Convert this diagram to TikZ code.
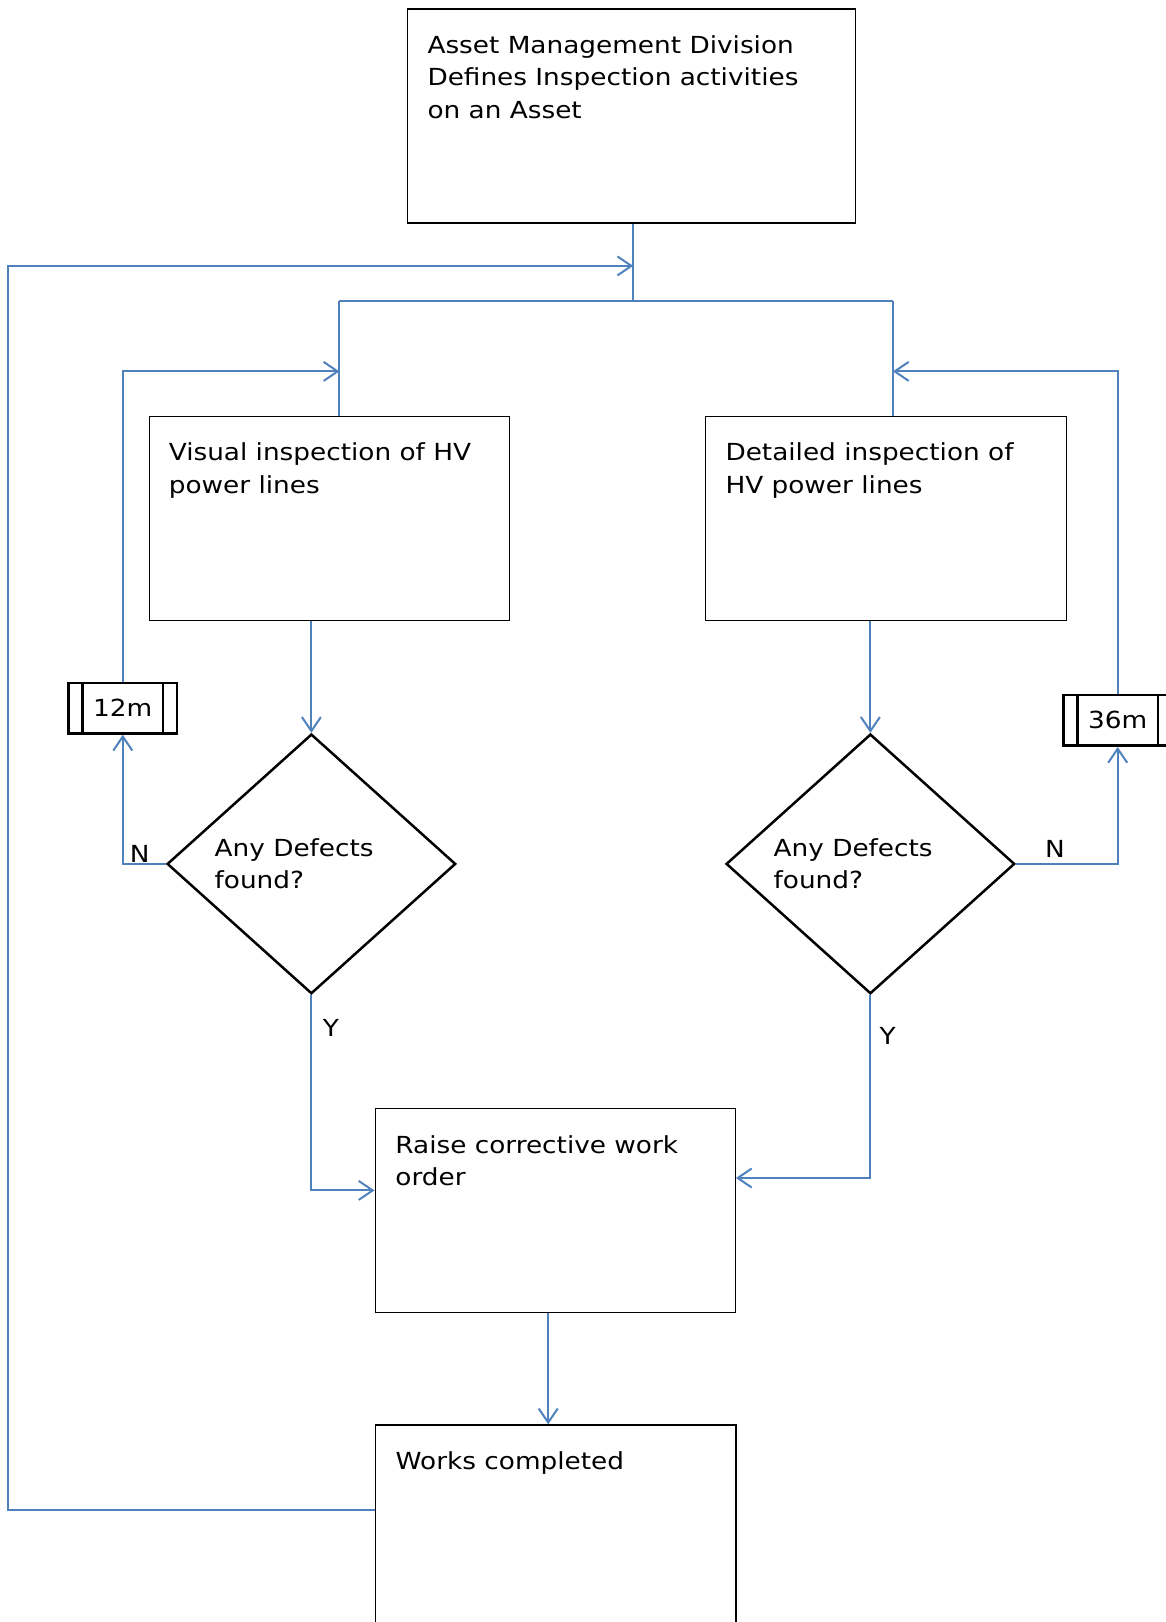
\documentclass[tikz,border=0pt]{standalone}
\usepackage{fontspec}
\setmainfont{DejaVu Sans}[FakeStretch=1.12]
\usepackage{tikz}
\usetikzlibrary{arrows.meta,calc,shapes.geometric,positioning}
\definecolor{LinkBlue}{RGB}{79,129,189}

\tikzset{
  boxtext/.style = {anchor=north west, align=left, inner sep=0pt,
                    font=\fontsize{23.5}{32.6}\selectfont},
  stepbox/.style = {draw, line width=1.3pt, inner sep=0pt, anchor=north west},
  askbox/.style  = {draw, diamond, line width=2.5pt, inner sep=0pt,
                    minimum width=288.6pt, minimum height=259.7pt},
  askline/.style = {boxtext, anchor=west, xshift=48.6pt},
  waitbox/.style = {draw, line width=2.6pt, inner sep=0pt,
                    minimum width=108.6pt, minimum height=50.5pt,
                    font=\fontsize{23.5}{32.6}\selectfont,
                    path picture={
                      \draw[line width=2.6pt]
                        ([xshift=14pt]path picture bounding box.north west) --
                        ([xshift=14pt]path picture bounding box.south west);
                      \draw[line width=2.6pt]
                        ([xshift=-14pt]path picture bounding box.north east) --
                        ([xshift=-14pt]path picture bounding box.south east);}},
  link/.style    = {draw=LinkBlue, line width=2pt},
  tip/.style     = {link, -{Straight Barb[length=14pt,width=19pt]}},
  yn/.style      = {inner sep=0pt, font=\fontsize{23.5}{32.6}\selectfont}
}

\begin{document}
\begin{tikzpicture}[x=1pt,y=-1pt]
\useasboundingbox (0,0) rectangle (1165,1622);
%
% boxes
\node[stepbox, minimum width=448pt, minimum height=214.1pt,
      label={[boxtext, xshift=20.7pt, yshift=-27pt]north west:{Asset Management Division\\Defines Inspection activities\\on an Asset}}]
      (amd) at (406.6,8.3) {};
\node[stepbox, minimum width=360pt, minimum height=203.8pt,
      label={[boxtext, xshift=19.6pt, yshift=-27pt]north west:{Visual inspection of HV\\power lines}}]
      (vis) at (149,415.9) {};
\node[stepbox, minimum width=361pt, minimum height=203.8pt,
      label={[boxtext, xshift=20.7pt, yshift=-27pt]north west:{Detailed inspection of\\HV power lines}}]
      (det) at (704.6,415.9) {};
\node[stepbox, minimum width=360.1pt, minimum height=203.9pt,
      label={[boxtext, xshift=20.7pt, yshift=-27pt]north west:{Raise corrective work\\order}}]
      (cwo) at (374.5,1108) {};
\node[stepbox, minimum width=360.5pt, minimum height=204pt,
      label={[boxtext, xshift=20.7pt, yshift=-27pt]north west:{Works completed}}]
      (done) at (374.8,1424.3) {};
%
% decisions
\node[askbox, label={[askline]west:{Any Defects\\found?}}] (askvis) at (311.4,863.9) {};
\node[askbox, label={[askline]west:{Any Defects\\found?}}] (askdet) at (870.4,863.9) {};
%
% intervals
\node[waitbox] (wait12) at (122.8,708.2) {12m};
\node[waitbox] (wait36) at (1117.7,720.4) {36m};
%
% junction points
\coordinate (split)   at (633.2,301);
\coordinate (visfork) at (339.4,301);
\coordinate (detfork) at (892.9,301);
\coordinate (visin)   at (339.4,371.4);
\coordinate (detin)   at (892.9,371.4);
\coordinate (loopin)  at (633.2,265.9);
\coordinate (loopbot) at (8.3,1509.8);
\coordinate (looptop) at (8.3,265.9);
%
% connectors
\draw[link] (amd.south -| split) -- (split);
\draw[link] (visfork) -- (detfork);
\draw[link] (visfork) -- (visfork |- vis.north);
\draw[link] (detfork) -- (detfork |- det.north);
\draw[tip] (vis.south -| askvis.north) -- (askvis.north);
\draw[tip] (det.south -| askdet.north) -- (askdet.north);
\draw[tip] (askvis.west) -| (wait12.south);
\draw[tip] (wait12.north) |- (visin);
\draw[tip] (askdet.east) -| (wait36.south);
\draw[tip] (wait36.north) |- (detin);
\draw[tip] (askvis.south) |- ([yshift=20.2pt]cwo.west);
\draw[tip] (askdet.south) |- ([yshift=32.6pt]cwo.east);
\draw[tip] ([xshift=-7pt]cwo.south) -- ([xshift=-7pt]cwo.south |- done.north);
\draw[tip] (done.west |- loopbot) -- (loopbot) -- (looptop) -- (loopin);
%
% answers
\node[yn] (nvis) at (139.7,853.5) {N};
\node[yn] (ndet) at (1055,848.5) {N};
\node[yn] (yvis) at (331,1028.4) {Y};
\node[yn] (ydet) at (887.7,1035.6) {Y};
\end{tikzpicture}
\end{document}
